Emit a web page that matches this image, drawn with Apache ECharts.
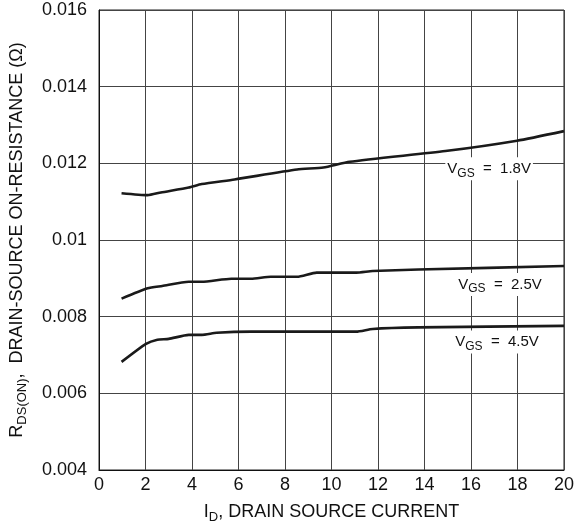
<!DOCTYPE html>
<html>
<head>
<meta charset="utf-8">
<script src="https://cdn.jsdelivr.net/npm/echarts@6/dist/echarts.min.js"></script>
<style>html,body{margin:0;padding:0;background:#fff;}#c{width:577px;height:529px;}</style>
</head>
<body>
<div id="c"></div>
<script>
// Drain current (A) sample points and on-resistance (Ohm) per gate voltage
const id18 = [0.97, 2.09, 2.66, 3.86, 4.42, 5.83, 8.52, 9.65, 10.78, 14.9, 17.98, 20.0];
const r18  = [0.01122, 0.01117, 0.01124, 0.01137, 0.01146, 0.01158, 0.01184, 0.01189, 0.01204, 0.01232, 0.01259, 0.01284];
const id25 = [0.97, 2.09, 2.72, 3.86, 4.42, 5.69, 6.54, 7.39, 8.52, 9.36, 11.06, 11.77, 13.74, 20.0];
const r25  = [0.00847, 0.00874, 0.0088, 0.00891, 0.00891, 0.00899, 0.00899, 0.00904, 0.00904, 0.00915, 0.00915, 0.00919, 0.00923, 0.00932];
const id45 = [0.97, 2.02, 2.51, 3.0, 3.86, 4.42, 5.06, 6.54, 11.06, 11.77, 13.74, 20.0];
const r45  = [0.00682, 0.00729, 0.0074, 0.00742, 0.007525, 0.007525, 0.00758, 0.00761, 0.00761, 0.00768, 0.00772, 0.00776];
const seriesNames = ['1.8V', '2.5V', '4.5V'];
const xTicks = [0, 2, 4, 6, 8, 10, 12, 14, 16, 18, 20];
const yTicks = [0.004, 0.006, 0.008, 0.01, 0.012, 0.014, 0.016];
// annotation anchors (data space)
const labelX = [16.78, 17.25, 17.12];
const labelY = [0.01186, 0.008836, 0.007336];

const FONT = 'Liberation Sans, Arial, Helvetica, sans-serif';
const zip = (a, b) => a.map((v, i) => [v, b[i]]);
const curves = [zip(id18, r18), zip(id25, r25), zip(id45, r45)];

const series = curves.map((d, i) => ({
  type: 'line',
  name: seriesNames[i],
  data: d,
  showSymbol: false,
  smooth: 0.2,
  lineStyle: { color: '#1a1a1a', width: 2.6 },
  silent: true,
  markPoint: {
    symbol: 'rect',
    symbolSize: 1,
    itemStyle: { color: 'rgba(0,0,0,0)' },
    data: [{ coord: [labelX[i], labelY[i]] }],
    label: {
      show: true,
      position: 'inside',
      formatter: '{v|V}{s|GS}{v|  =  ' + seriesNames[i] + '}',
      backgroundColor: '#fff',
      padding: [1, 2],
      rich: {
        v: { fontFamily: FONT, fontSize: 15, color: '#111' },
        s: { fontFamily: FONT, fontSize: 12, color: '#111', verticalAlign: 'bottom', padding: [9, 0, 0, 0] }
      }
    }
  }
}));

const chart = echarts.init(document.getElementById('c'), null, { renderer: 'canvas' });
chart.setOption({
  animation: false,
  backgroundColor: '#fff',
  grid: { left: 99, right: 6, top: 10, bottom: 55, show: true, borderColor: '#222', borderWidth: 1, backgroundColor: 'transparent' },
  xAxis: {
    type: 'value', min: xTicks[0], max: xTicks[xTicks.length - 1], interval: 2,
    axisLine: { show: true, lineStyle: { color: '#111', width: 1 } },
    axisTick: { show: false },
    splitLine: { show: true, lineStyle: { color: '#444', width: 1 } },
    axisLabel: { color: '#111', fontFamily: FONT, fontSize: 18, margin: 6 },
    name: '{m|I}{s|D}{m|, DRAIN SOURCE CURRENT}',
    nameLocation: 'middle', nameGap: 31,
    nameTextStyle: {
      rich: {
        m: { fontFamily: FONT, fontSize: 18, color: '#111' },
        s: { fontFamily: FONT, fontSize: 13, color: '#111', verticalAlign: 'bottom', padding: [10, 0, 0, 0] }
      }
    }
  },
  yAxis: {
    type: 'value', min: yTicks[0], max: yTicks[yTicks.length - 1], interval: 0.002,
    axisLine: { show: true, lineStyle: { color: '#111', width: 1 } },
    axisTick: { show: false },
    splitLine: { show: true, lineStyle: { color: '#444', width: 1 } },
    axisLabel: { color: '#111', fontFamily: FONT, fontSize: 18, margin: 12,
      formatter: v => String(+v.toFixed(3)) },
    name: '{m|R}{s|DS(ON)}{m|,  DRAIN-SOURCE ON-RESISTANCE (Ω)}',
    nameLocation: 'middle', nameGap: 70, nameRotate: 90,
    nameTextStyle: {
      rich: {
        m: { fontFamily: FONT, fontSize: 18, color: '#111' },
        s: { fontFamily: FONT, fontSize: 13, color: '#111', verticalAlign: 'bottom', padding: [10, 0, 0, 0] }
      }
    }
  },
  series: series
});
</script>
</body>
</html>
